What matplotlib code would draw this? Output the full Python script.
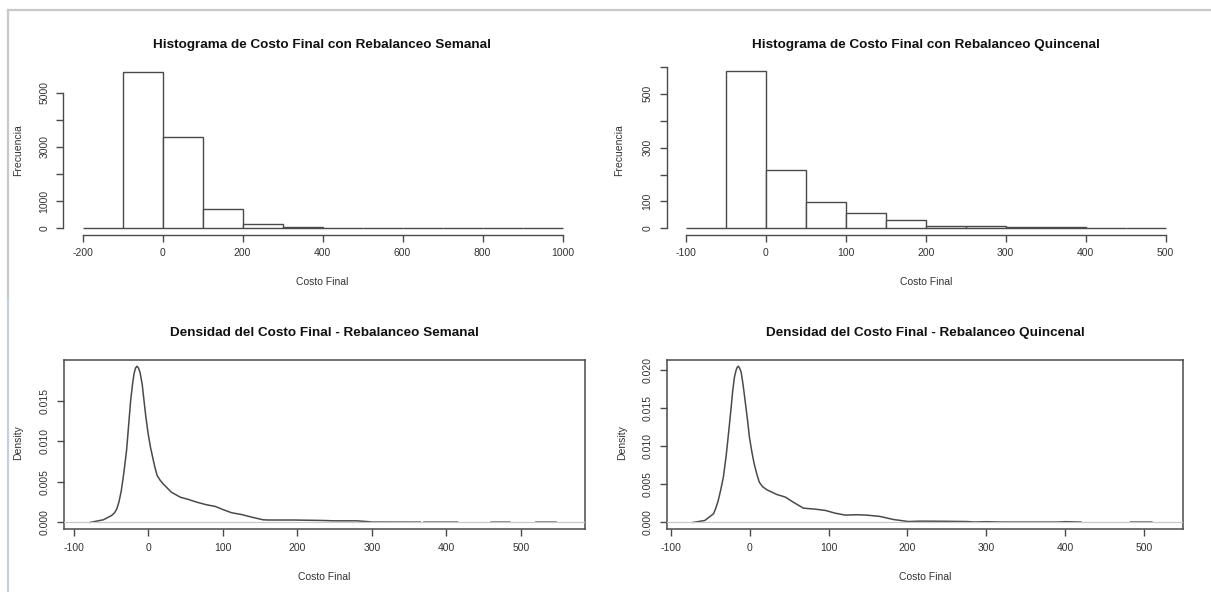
import numpy as np
import matplotlib.pyplot as plt
from matplotlib.lines import Line2D

plt.rcParams['font.family'] = ['Liberation Sans', 'DejaVu Sans']
plt.rcParams['axes.unicode_minus'] = False

W, H = 1211, 592

# histogram of final cost, weekly rebalancing (bins of 100)
sem_edges = [-200, -100, 0, 100, 200, 300, 400, 500, 600, 700, 800, 900, 1000]
sem_counts = [2, 5780, 3360, 705, 170, 60, 25, 15, 3, 1, 1, 1]

# histogram of final cost, biweekly rebalancing (bins of 50)
quin_edges = [-100, -50, 0, 50, 100, 150, 200, 250, 300, 350, 400, 450, 500]
quin_counts = [2, 586, 215, 96, 56, 31, 9, 9, 4, 4, 2, 1]

# kernel density of final cost, weekly rebalancing (nan = curve hidden by zero line)
sem_dens_x = [-78, -60, -49, -45, -42, -39, -36, -32.5, -29, -26, -23.5, -21, -19, -17, -15,
              -13, -11, -8, -5.6, -3, 0, 3, 6, 9, 12, 16, 20, 31,
              43, 54, 65, 78, 90, 101, 112, 125, 139, 154, 161, 195, 230, 250, 280, 295,
              300, 365, 367, 370, 415, 417, 460, 485, 487, 520, 547]
sem_dens_y = [0.0, 0.00033, 0.00086, 0.0012, 0.00168, 0.0026, 0.00393, 0.0062, 0.00885,
              0.0122, 0.0150, 0.0170, 0.01828, 0.0190, 0.01922, 0.0190, 0.01848, 0.0170,
              0.0150, 0.0129, 0.0109, 0.0093, 0.00803, 0.0068, 0.00578, 0.0052, 0.00476,
              0.00373, 0.00311, 0.00283, 0.0025, 0.00218, 0.00197, 0.00156, 0.00119,
              0.00098, 0.00065, 0.00033, 0.0003, 0.0003, 0.00025, 0.0002, 0.0002, 0.0001,
              0.00005, 0.00004, np.nan, 0.00004, 0.00004, np.nan, 0.00004, 0.00004, np.nan,
              0.00004, 0.00004]

# kernel density of final cost, biweekly rebalancing
quin_dens_x = [-72, -57, -46, -43, -40, -37, -33.5, -30, -27, -24, -21.6, -19.5, -17.4, -16,
               -14.5, -13, -11, -8.5, -6, -3, -0.5, 2.5, 5.5, 9, 12, 16,
               21.6, 34, 45, 55, 68, 83, 96, 108, 121, 136, 148, 165, 182, 201, 216, 250,
               275, 285, 300, 320, 390, 400, 420, 422, 483, 510]
quin_dens_y = [0.0, 0.00026, 0.00114, 0.0019, 0.00288, 0.0042, 0.00594, 0.0087, 0.01162,
               0.0147, 0.01729, 0.0190, 0.01991, 0.0203, 0.02044, 0.0202, 0.01969, 0.0180,
               0.01598, 0.0135, 0.01118, 0.0093, 0.00769, 0.0063, 0.00528, 0.0047,
               0.00428, 0.00367, 0.00332, 0.00266, 0.00187, 0.00174, 0.00157, 0.00122,
               0.00096, 0.00101, 0.00096, 0.00079, 0.00039, 0.00012, 0.00017, 0.00015,
               0.00012, 0.00006, 0.0001, 0.00005, 0.00005, 0.0001, 0.00005, np.nan,
               0.00005, 0.00005]

LINE = '#4a4a4a'
TXT = '#333333'
FS = 7.5

fig = plt.figure(figsize=(W / 100, H / 100), dpi=100)


def px_axes(left, top, right, bottom):
    return fig.add_axes([left / W, 1 - bottom / H, (right - left) / W, (bottom - top) / H])


def fig_text(x, y, s, **kw):
    fig.text(x / W, 1 - y / H, s, ha='center', va='center', **kw)


def style_ticks(ax):
    ax.tick_params(direction='out', length=5, width=1.0, color=LINE,
                   labelsize=FS, labelcolor=TXT, pad=5)
    for lab in ax.get_yticklabels():
        lab.set_rotation(90)
        lab.set_va('center')


def draw_hist(ax, edges, counts, yticks, ylabels, ymax):
    edges = np.array(edges, dtype=float)
    ax.bar(edges[:-1], counts, width=np.diff(edges), align='edge',
           facecolor='white', edgecolor=LINE, linewidth=1.0)
    span = edges[-1] - edges[0]
    ax.set_xlim(edges[0] - 0.04 * span, edges[-1] + 0.04 * span)
    ax.set_ylim(-0.04 * ymax, ymax * 1.04)
    for s in ('top', 'right'):
        ax.spines[s].set_visible(False)
    ax.spines['left'].set_bounds(yticks[0], yticks[-1])
    ax.spines['bottom'].set_bounds(edges[0], edges[-1])
    for s in ('left', 'bottom'):
        ax.spines[s].set_color(LINE)
        ax.spines[s].set_linewidth(1.0)
    ax.set_yticks(yticks)
    ax.set_yticklabels(ylabels)
    style_ticks(ax)


def draw_density(ax, xs, ys, xlim, yticks):
    ax.plot(xs, ys, color=LINE, linewidth=1.1)
    ax.axhline(0, color='#c8c8c8', linewidth=0.9, zorder=3)
    ax.set_xlim(*xlim)
    top = np.nanmax(ys)
    ax.set_ylim(-0.04 * top, top * 1.04)
    for s in ax.spines.values():
        s.set_color(LINE)
        s.set_linewidth(1.1)
    ax.set_xticks([-100, 0, 100, 200, 300, 400, 500])
    ax.set_yticks(yticks)
    ax.set_yticklabels(['%.3f' % t for t in yticks])
    style_ticks(ax)


# top left: weekly histogram
ax1 = px_axes(63.4, 65.3, 581.8, 234.6)
draw_hist(ax1, sem_edges, sem_counts, [0, 1000, 2000, 3000, 4000, 5000],
          ['0', '1000', '', '3000', '', '5000'], max(sem_counts))
ax1.set_xticks(range(-200, 1001, 200))

# top right: biweekly histogram
ax2 = px_axes(666.5, 64.4, 1184.9, 234.6)
draw_hist(ax2, quin_edges, quin_counts, [0, 100, 200, 300, 400, 500, 600],
          ['0', '100', '', '300', '', '500', ''], max(quin_counts))
ax2.set_xticks(range(-100, 501, 100))

# bottom left: weekly density
ax3 = px_axes(64, 360, 585, 528.7)
draw_density(ax3, sem_dens_x, sem_dens_y, (-112.9, 585.9), [0, 0.005, 0.010, 0.015])

# bottom right: biweekly density
ax4 = px_axes(666.7, 360, 1183, 528.7)
draw_density(ax4, quin_dens_x, quin_dens_y, (-105.4, 549.5), [0, 0.005, 0.010, 0.015, 0.020])

# titles and axis labels
title_kw = dict(fontsize=9.7, fontweight='bold', color='#111111')
fig_text(322, 45, 'Histograma de Costo Final con Rebalanceo Semanal', **title_kw)
fig_text(926, 45, 'Histograma de Costo Final con Rebalanceo Quincenal', **title_kw)
fig_text(324, 333, 'Densidad del Costo Final - Rebalanceo Semanal', **title_kw)
fig_text(925, 333, 'Densidad del Costo Final - Rebalanceo Quincenal', **title_kw)

lab_kw = dict(fontsize=FS, color=TXT)
fig_text(322, 282, 'Costo Final', **lab_kw)
fig_text(926, 282, 'Costo Final', **lab_kw)
fig_text(324, 577, 'Costo Final', **lab_kw)
fig_text(925, 577, 'Costo Final', **lab_kw)
fig_text(18, 150, 'Frecuencia', rotation=90, **lab_kw)
fig_text(619, 150, 'Frecuencia', rotation=90, **lab_kw)
fig_text(18, 443, 'Density', rotation=90, **lab_kw)
fig_text(622, 443, 'Density', rotation=90, **lab_kw)

# window frame along the top and left edges
fig.add_artist(Line2D([8 / W, 1], [1 - 9.5 / H] * 2, transform=fig.transFigure,
                      color='#c8c8c8', linewidth=1.6))
fig.add_artist(Line2D([8 / W] * 2, [1 - 9.5 / H, 1 - 300 / H], transform=fig.transFigure,
                      color='#c8c8c8', linewidth=1.6))
fig.add_artist(Line2D([8 / W] * 2, [1 - 300 / H, 0], transform=fig.transFigure,
                      color='#c2d0e0', linewidth=1.6))

fig.savefig('out.png', dpi=100)
